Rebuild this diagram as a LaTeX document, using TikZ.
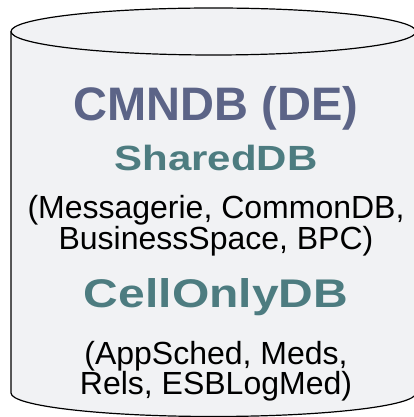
\documentclass[tikz,border=0pt]{standalone}
\usepackage{fontspec}
\setmainfont{Liberation Sans}
\newfontfamily\widesans[FakeStretch=1.2]{Liberation Sans}
\definecolor{dbfill}{HTML}{F1F2F4}
\definecolor{titleslate}{HTML}{5C6487}
\definecolor{groupteal}{HTML}{4D7C80}

\begin{document}
\begin{tikzpicture}[x=1pt, y=1pt,
  dbtitle/.style={anchor=base, inner sep=0pt, text=titleslate,
                  font=\fontsize{47}{47}\selectfont\bfseries},
  dbgroup/.style={anchor=base, inner sep=0pt, text=groupteal,
                  font={\widesans\bfseries\fontsize{#1}{#1}\selectfont}},
  dblist/.style={anchor=base, inner sep=0pt, align=center,
                 font=\fontsize{32}{28.5}\selectfont}
]
  \useasboundingbox (0,0) rectangle (414,417);
  \begin{scope}
    \clip (0,0) rectangle (414,417);
    \draw[line width=1.2pt, fill=dbfill] (11,385.5) -- (11,24)
      arc (180:360:202.5 and 23.5) -- (416,385.5) arc (0:180:202.5 and 23.5) -- cycle;
    \draw[line width=1.2pt] (11,385.5) arc (180:360:202.5 and 23.5);
  \end{scope}

  % base of a two-line list = its last line
  \node[dbtitle]    (cmndb)      at (216,296)   {CMNDB (DE)};
  \node[dbgroup=35] (shared)     at (216,246.5) {SharedDB};
  \node[dblist]     (sharedlist) at (216,167.5) {(Messagerie, CommonDB,\\BusinessSpace, BPC)};
  \node[dbgroup=40] (cellonly)   at (216,109)   {CellOnlyDB};
  \node[dblist]     (celllist)   at (216,22)    {(AppSched, Meds,\\Rels, ESBLogMed)};
\end{tikzpicture}
\end{document}
